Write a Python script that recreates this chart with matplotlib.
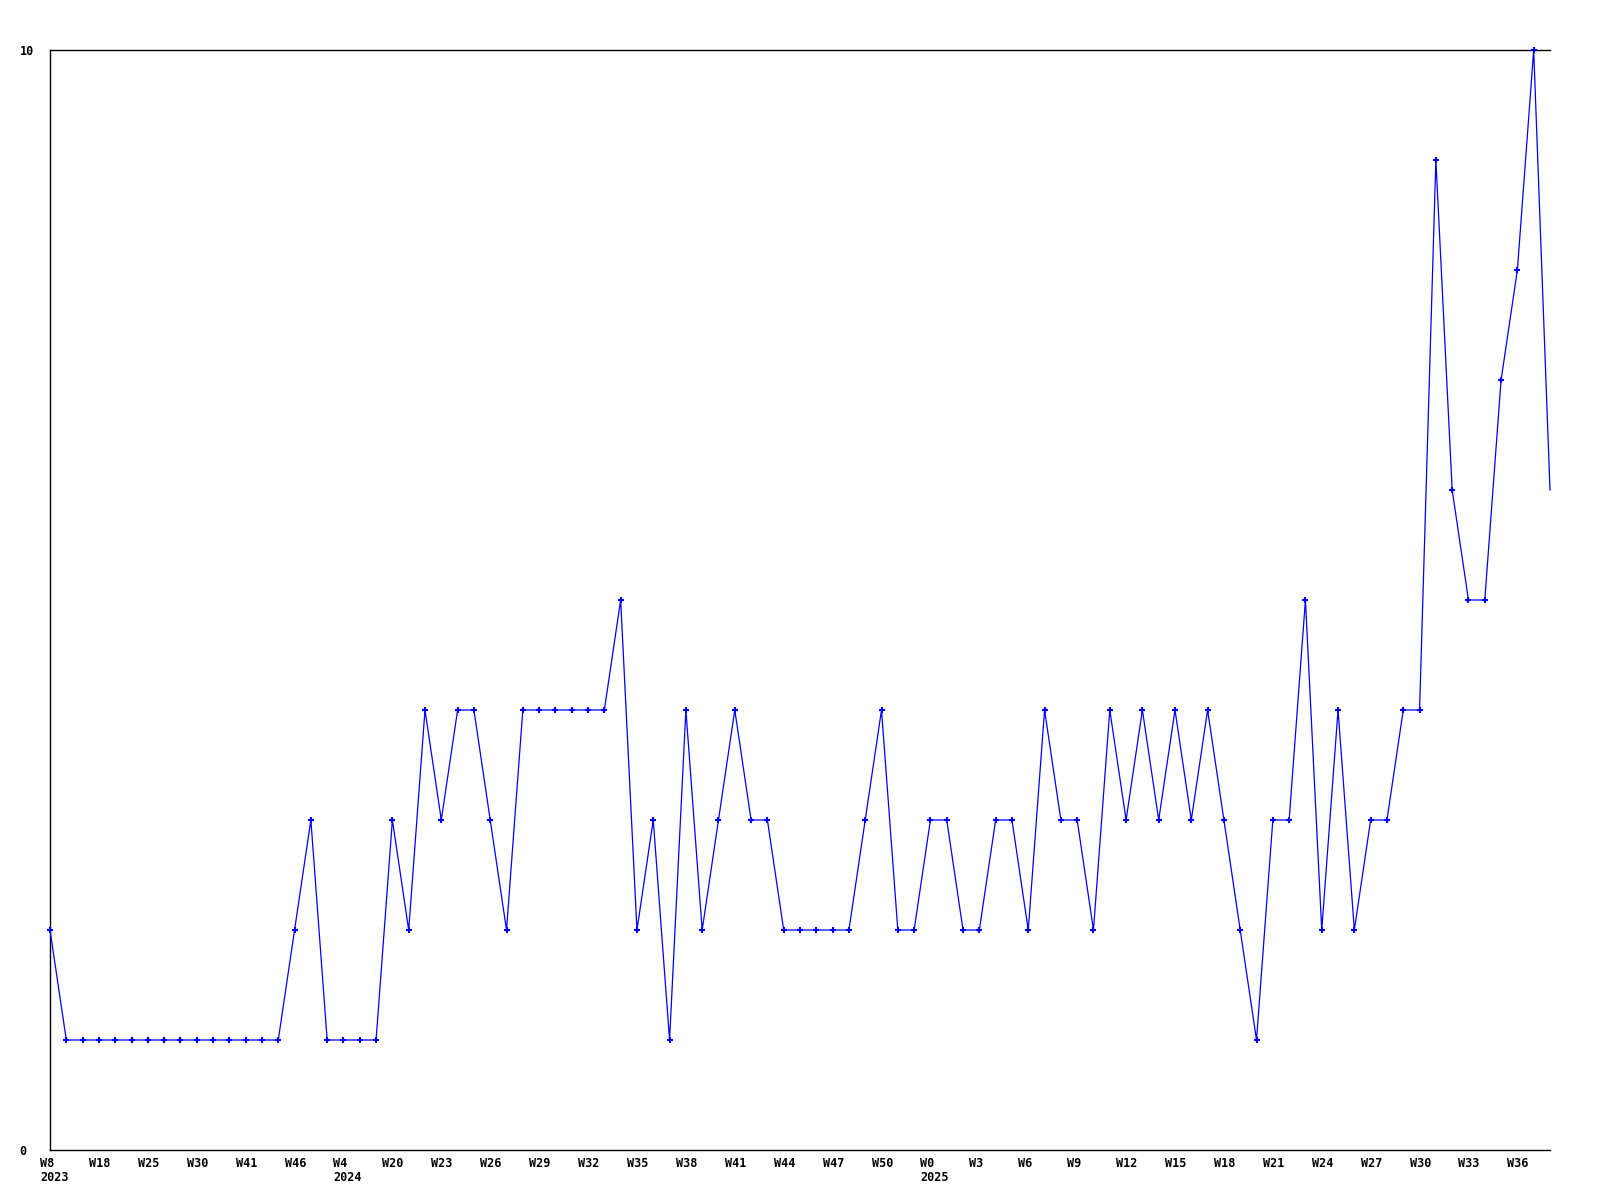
import matplotlib
matplotlib.use('Agg')
import matplotlib.pyplot as plt
import matplotlib.transforms as mtransforms

# weekly counts, one value per week shown on the x axis
values = [2, 1, 1, 1, 1, 1, 1, 1, 1, 1, 1, 1, 1, 1, 1, 2, 3, 1, 1, 1,
          1, 3, 2, 4, 3, 4, 4, 3, 2, 4, 4, 4, 4, 4, 4, 5, 2, 3, 1, 4,
          2, 3, 4, 3, 3, 2, 2, 2, 2, 2, 3, 4, 2, 2, 3, 3, 2, 2, 3, 3,
          2, 4, 3, 3, 2, 4, 3, 4, 3, 4, 3, 4, 3, 2, 1, 3, 3, 5, 2, 4,
          2, 3, 3, 4, 4, 9, 6, 5, 5, 7, 8, 10, 6]

# tick labels every third week
week_labels = ['W8', 'W18', 'W25', 'W30', 'W41', 'W46', 'W4', 'W20', 'W23', 'W26',
               'W29', 'W32', 'W35', 'W38', 'W41', 'W44', 'W47', 'W50', 'W0', 'W3',
               'W6', 'W9', 'W12', 'W15', 'W18', 'W21', 'W24', 'W27', 'W30', 'W33', 'W36']
year_labels = {0: '2023', 6: '2024', 18: '2025'}  # index into week_labels

font = {'family': 'DejaVu Sans Mono', 'weight': 'bold', 'size': 8.5}

fig = plt.figure(figsize=(16, 12), dpi=100)
ax = fig.add_axes([50 / 1600, 50 / 1200, 1500 / 1600, 1100 / 1200])

x = list(range(len(values)))
# last point has no marker in the original
ax.plot(x, values, color='#0000ff', linewidth=0.9, marker='+', markersize=4.5,
        markeredgewidth=1.5, markevery=list(range(len(values) - 1)), clip_on=False, zorder=3)

ax.set_xlim(0, len(values) - 1)
ax.set_ylim(0, 10)

for side in ['left', 'top', 'bottom']:
    ax.spines[side].set_linewidth(1.0)
    ax.spines[side].set_color('black')
ax.spines['right'].set_visible(False)

# y labels
ax.set_yticks([0, 10])
ax.set_yticklabels(['0', '10'], fontdict=font)
ax.tick_params(axis='y', length=0, pad=22)
for lab in ax.get_yticklabels():
    lab.set_horizontalalignment('left')

# x labels, left aligned slightly before each point
ax.set_xticks([])
offset = mtransforms.ScaledTranslation(-10 / 100, 0, fig.dpi_scale_trans)
trans = mtransforms.blended_transform_factory(ax.transData, ax.transAxes) + offset
for i, lab in enumerate(week_labels):
    txt = lab
    if i in year_labels:
        txt = lab + '\n' + year_labels[i]
    ax.text(i * 3, -0.006, txt, transform=trans, ha='left', va='top',
            linespacing=1.12, **font)

plt.savefig('out.png', dpi=100)
